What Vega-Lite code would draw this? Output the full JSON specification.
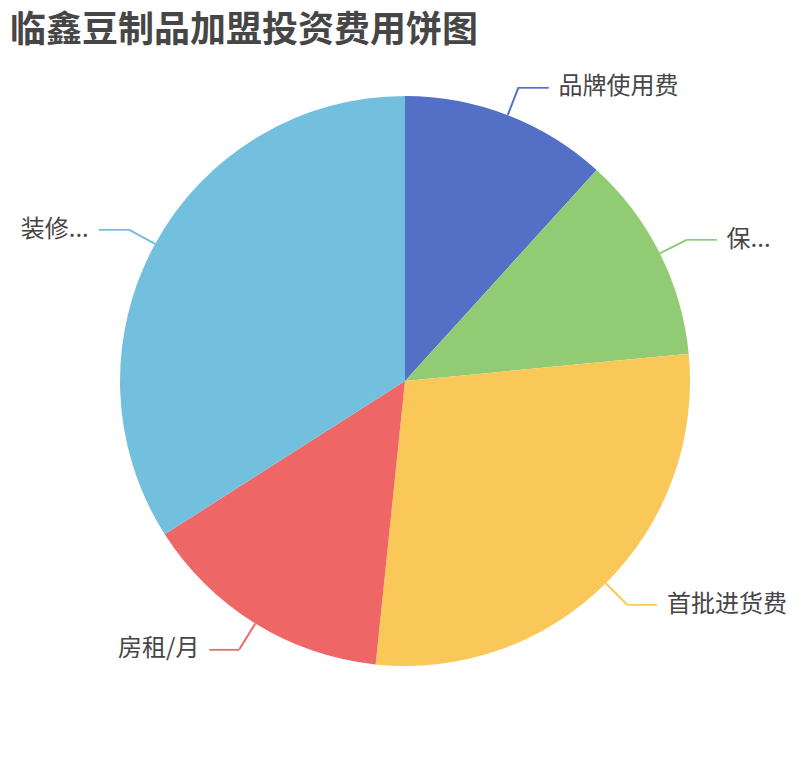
{
  "$schema": "https://vega.github.io/schema/vega-lite/v6.json",
  "width": 810,
  "height": 660,
  "padding": {"left": 0, "top": 13, "right": 0, "bottom": 0},
  "background": "#ffffff",
  "title": {
    "text": "临鑫豆制品加盟投资费用饼图",
    "anchor": "start",
    "dx": 10,
    "offset": 1,
    "font": "Noto Sans CJK SC",
    "fontSize": 36,
    "fontWeight": "bold",
    "color": "#464646"
  },
  "config": {"view": {"stroke": null}},
  "data": {
    "values": [
      {"i": 1, "name": "品牌使用费", "label": "品牌使用费", "value": 1.0},
      {"i": 2, "name": "保证金", "label": "保...", "value": 1.0},
      {"i": 3, "name": "首批进货费", "label": "首批进货费", "value": 2.4},
      {"i": 4, "name": "房租/月", "label": "房租/月", "value": 1.22},
      {"i": 5, "name": "装修费", "label": "装修...", "value": 2.9}
    ]
  },
  "encoding": {
    "theta": {"field": "value", "type": "quantitative", "stack": true},
    "order": {"field": "i", "type": "quantitative"}
  },
  "layer": [
    {
      "mark": {"type": "arc", "outerRadius": 285, "innerRadius": 0},
      "encoding": {
        "color": {
          "field": "name",
          "type": "nominal",
          "legend": null,
          "scale": {
            "domain": ["品牌使用费", "保证金", "首批进货费", "房租/月", "装修费"],
            "range": ["#5470c6", "#91cc75", "#fac858", "#ee6666", "#73c0de"]
          }
        }
      }
    },
    {
      "mark": {"type": "arc", "filled": false, "outerRadius": 315, "innerRadius": 285, "padAngle": 2, "strokeWidth": 2},
      "encoding": {
        "color": {"field": "name", "type": "nominal", "legend": null}
      }
    },
    {
      "mark": {"type": "text", "radius": 315, "align": "left", "baseline": "middle", "font": "DejaVu Sans Mono", "fontSize": 10, "dy": 0.5},
      "encoding": {
        "color": {"field": "name", "type": "nominal", "legend": null},
        "text": {"condition": {"test": "datum.i <= 3", "value": "━━━━━"}, "value": ""}
      }
    },
    {
      "mark": {"type": "text", "radius": 315, "align": "right", "baseline": "middle", "font": "DejaVu Sans Mono", "fontSize": 10, "dy": 0.5},
      "encoding": {
        "color": {"field": "name", "type": "nominal", "legend": null},
        "text": {"condition": {"test": "datum.i > 3", "value": "━━━━━"}, "value": ""}
      }
    },
    {
      "mark": {"type": "text", "radius": 315, "dx": 40, "align": "left", "baseline": "middle", "font": "Noto Sans CJK SC", "fontSize": 24, "color": "#464646"},
      "encoding": {
        "text": {"condition": {"test": "datum.i <= 3", "field": "label"}, "value": ""}
      }
    },
    {
      "mark": {"type": "text", "radius": 315, "dx": -40, "align": "right", "baseline": "middle", "font": "Noto Sans CJK SC", "fontSize": 24, "color": "#464646"},
      "encoding": {
        "text": {"condition": {"test": "datum.i > 3", "field": "label"}, "value": ""}
      }
    }
  ]
}
